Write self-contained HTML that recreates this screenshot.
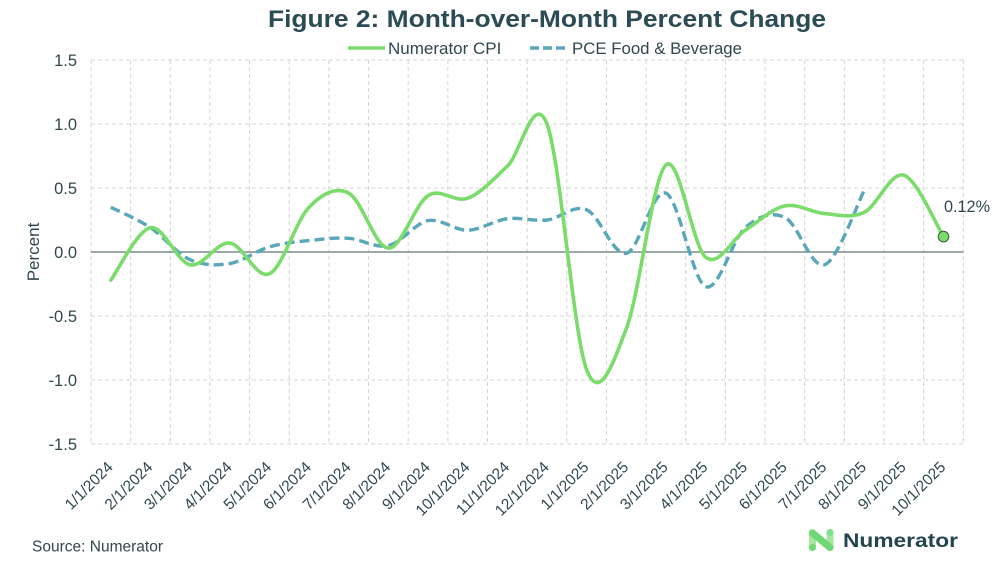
<!DOCTYPE html>
<html><head><meta charset="utf-8">
<style>
html,body{margin:0;padding:0;background:#fff;}
svg{display:block;font-family:"Liberation Sans",Arial,sans-serif;}
</style></head>
<body>
<svg id="c" width="1000" height="564" viewBox="0 0 1000 564" xmlns="http://www.w3.org/2000/svg">
<rect width="1000" height="564" fill="#fff"/>
<g id="grid" stroke="#d4d4d4" stroke-width="1" stroke-dasharray="4 3" fill="none"></g>
<line x1="91" y1="252" x2="963.3" y2="252" stroke="#7d8b8f" stroke-width="1.6"/>
<path id="pce" fill="none" stroke="#5aa7ba" stroke-width="3.4" stroke-dasharray="10 5" stroke-linecap="butt"/>
<path id="cpi" fill="none" stroke="#7bdc6c" stroke-width="3.6" stroke-linecap="round" stroke-linejoin="round"/>
<circle cx="943.5" cy="236.6" r="5.3" fill="#7bdc6c" stroke="#3d5a44" stroke-width="1"/>
<text x="944" y="212" font-size="16.5" fill="#30474f" textLength="46" lengthAdjust="spacingAndGlyphs">0.12%</text>

<text x="268" y="27" font-size="24.5" font-weight="bold" fill="#2b4b55" textLength="558" lengthAdjust="spacingAndGlyphs">Figure 2: Month-over-Month Percent Change</text>

<line x1="348" y1="48" x2="385" y2="48" stroke="#7bdc6c" stroke-width="3.6"/>
<text x="388" y="54" font-size="17" fill="#30474f">Numerator CPI</text>
<line x1="530" y1="48" x2="566" y2="48" stroke="#5aa7ba" stroke-width="3.4" stroke-dasharray="9 4"/>
<text x="572" y="54" font-size="17" fill="#30474f" textLength="170" lengthAdjust="spacingAndGlyphs">PCE Food &amp; Beverage</text>

<g font-size="16.5" fill="#30474f" text-anchor="end">
<text x="77" y="66">1.5</text>
<text x="77" y="130">1.0</text>
<text x="77" y="194">0.5</text>
<text x="77" y="258">0.0</text>
<text x="77" y="322">-0.5</text>
<text x="77" y="386">-1.0</text>
<text x="77" y="450">-1.5</text>
</g>
<text transform="translate(39,252) rotate(-90)" font-size="17" fill="#30474f" text-anchor="middle">Percent</text>

<g font-size="15.5" fill="#30474f" text-anchor="end">
<text transform="translate(113.8,468) rotate(-45)">1/1/2024</text>
<text transform="translate(153.5,468) rotate(-45)">2/1/2024</text>
<text transform="translate(193.1,468) rotate(-45)">3/1/2024</text>
<text transform="translate(232.8,468) rotate(-45)">4/1/2024</text>
<text transform="translate(272.4,468) rotate(-45)">5/1/2024</text>
<text transform="translate(312.1,468) rotate(-45)">6/1/2024</text>
<text transform="translate(351.7,468) rotate(-45)">7/1/2024</text>
<text transform="translate(391.4,468) rotate(-45)">8/1/2024</text>
<text transform="translate(431.0,468) rotate(-45)">9/1/2024</text>
<text transform="translate(470.7,468) rotate(-45)">10/1/2024</text>
<text transform="translate(510.3,468) rotate(-45)">11/1/2024</text>
<text transform="translate(550.0,468) rotate(-45)">12/1/2024</text>
<text transform="translate(589.6,468) rotate(-45)">1/1/2025</text>
<text transform="translate(629.3,468) rotate(-45)">2/1/2025</text>
<text transform="translate(668.9,468) rotate(-45)">3/1/2025</text>
<text transform="translate(708.6,468) rotate(-45)">4/1/2025</text>
<text transform="translate(748.2,468) rotate(-45)">5/1/2025</text>
<text transform="translate(787.9,468) rotate(-45)">6/1/2025</text>
<text transform="translate(827.5,468) rotate(-45)">7/1/2025</text>
<text transform="translate(867.2,468) rotate(-45)">8/1/2025</text>
<text transform="translate(906.8,468) rotate(-45)">9/1/2025</text>
<text transform="translate(946.5,468) rotate(-45)">10/1/2025</text>
</g>

<text x="32" y="551.5" font-size="15.5" fill="#30474f" textLength="131" lengthAdjust="spacingAndGlyphs">Source: Numerator</text>

<g>
<rect x="809" y="529" width="7" height="22" rx="3.5" fill="#a6e8a0"/>
<rect x="826.5" y="529" width="7" height="22" rx="3.5" fill="#a6e8a0"/>
<line x1="812.5" y1="533" x2="830" y2="547.5" stroke="#6fd872" stroke-width="7" stroke-linecap="round"/>
<circle cx="830" cy="532.5" r="3.5" fill="#7fe28e"/>
<circle cx="812.5" cy="547.5" r="3.5" fill="#6fd872"/>
</g>
<text x="843" y="547" font-size="19" font-weight="bold" fill="#23454d" textLength="115" lengthAdjust="spacingAndGlyphs">Numerator</text>
</svg>
<script>
(function(){
var NS="http://www.w3.org/2000/svg";
var g=document.getElementById("grid");
var x0=91, w=39.65, y0=252, s=128;
function ln(a,b,c,d){var l=document.createElementNS(NS,"line");l.setAttribute("x1",a);l.setAttribute("y1",b);l.setAttribute("x2",c);l.setAttribute("y2",d);g.appendChild(l);}
for(var i=0;i<=22;i++){var x=x0+w*i;ln(x,60,x,444);}
[60,124,188,316,380,444].forEach(function(y){ln(91,y,963.3,y);});
function X(i){return x0+w*(i+0.5);}
function Y(v){return y0-s*v;}
function path(vals){
  var p=vals.map(function(v,i){return [X(i),Y(v)];});
  var d="M"+p[0][0].toFixed(2)+","+p[0][1].toFixed(2);
  for(var i=0;i<p.length-1;i++){
    var a=p[i-1]||p[i], b=p[i], c=p[i+1], e=p[i+2]||p[i+1];
    var c1x=b[0]+(c[0]-a[0])/6, c1y=b[1]+(c[1]-a[1])/6;
    var c2x=c[0]-(e[0]-b[0])/6, c2y=c[1]-(e[1]-b[1])/6;
    d+=" C"+c1x.toFixed(2)+","+c1y.toFixed(2)+" "+c2x.toFixed(2)+","+c2y.toFixed(2)+" "+c[0].toFixed(2)+","+c[1].toFixed(2);
  }
  return d;
}
var cpi=[-0.22,0.19,-0.10,0.07,-0.17,0.35,0.46,0.03,0.44,0.42,0.67,1.0,-0.92,-0.60,0.68,-0.04,0.17,0.36,0.30,0.31,0.60,0.12];
var pce=[0.35,0.19,-0.06,-0.09,0.04,0.09,0.107,0.05,0.245,0.17,0.26,0.25,0.33,-0.01,0.46,-0.27,0.19,0.27,-0.10,0.48];
document.getElementById("cpi").setAttribute("d",path(cpi));
document.getElementById("pce").setAttribute("d",path(pce));
})();
</script>
</body></html>
